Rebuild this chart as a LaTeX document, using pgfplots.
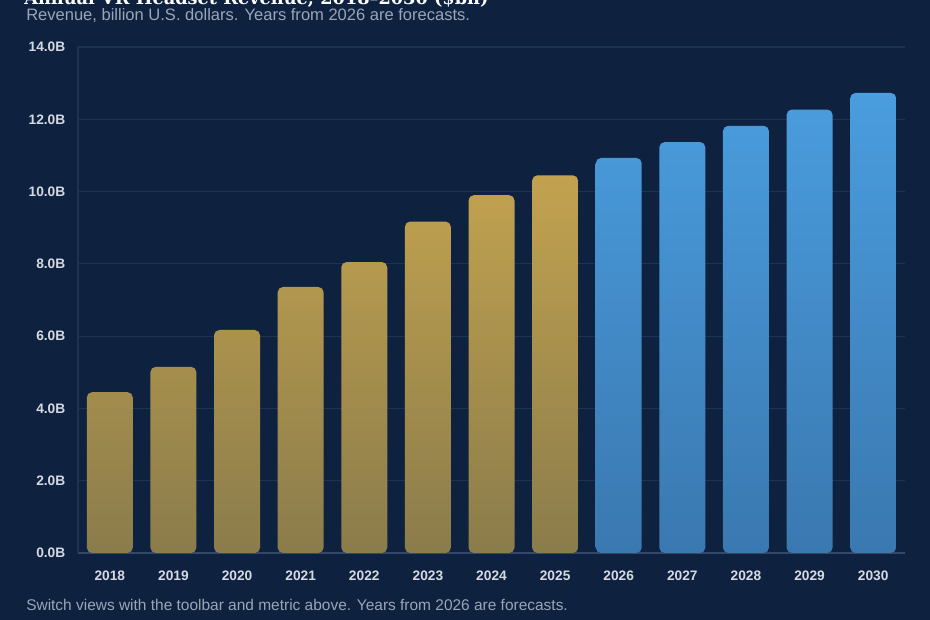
\documentclass[border=0pt]{standalone}
\usepackage{pgfplots}
\pgfplotsset{compat=1.18}
\usepackage{fontspec}
\setmainfont{Liberation Sans}
\newfontfamily\titlefont{DejaVu Serif}
\definecolor{bg}{HTML}{0E2240}
\definecolor{subgrey}{HTML}{9AA5B6}
\definecolor{ticktext}{HTML}{D5DAE2}
\definecolor{gridc}{HTML}{1C3352}
\definecolor{axisc}{HTML}{34496A}
\definecolor{goldtop}{HTML}{C2A24F}
\definecolor{goldbot}{HTML}{8A7C4B}
\definecolor{bluetop}{HTML}{4A9DDE}
\definecolor{bluebot}{HTML}{3A78B0}
\begin{document}
\begin{tikzpicture}[x=0.75pt,y=0.75pt]
\useasboundingbox (0,0) rectangle (930,620);
\clip (0,0) rectangle (930,620);
\fill[bg] (0,0) rectangle (930,620);
\node[anchor=base west, font=\titlefont\bfseries\fontsize{13.3}{15}\selectfont, text=white, inner sep=0] at (24,615) {Annual VR Headset Revenue, 2018–2030 (\$bn)};
\node[anchor=base west, font=\fontsize{12.4}{14}\selectfont, text=subgrey, inner sep=0] at (26,599) {Revenue, billion U.S. dollars. Years from 2026 are forecasts.};
\node[anchor=base west, font=\fontsize{11.6}{13}\selectfont, text=subgrey, inner sep=0] at (26,9) {Switch views with the toolbar and metric above. Years from 2026 are forecasts.};
\begin{axis}[
  at={(58.5pt,50.25pt)}, anchor=south west,
  scale only axis, width=620.25pt, height=379.5pt,
  xmin=-0.5, xmax=12.5, ymin=0, ymax=14,
  axis x line*=bottom, axis y line*=left,
  x axis line style={draw=axisc, line width=1pt, -},
  y axis line style={draw=gridc, line width=0.8pt, -},
  ytick={0,2,4,6,8,10,12,14},
  yticklabels={0.0B,2.0B,4.0B,6.0B,8.0B,10.0B,12.0B,14.0B},
  xtick={0,...,12},
  xticklabels={2018,2019,2020,2021,2022,2023,2024,2025,2026,2027,2028,2029,2030},
  major tick length=0pt,
  ymajorgrids, grid style={draw=gridc, line width=0.8pt},
  tick label style={font=\bfseries\fontsize{10.3}{12}\selectfont, text=ticktext},
  yticklabel style={xshift=-6pt},
  xticklabel style={yshift=-10pt},
]
\addplot[ybar, bar width=0.723, bar shift=0pt, draw=none, top color=goldtop, bottom color=goldbot, rounded corners=4pt]
  coordinates {(0,4.45) (1,5.15) (2,6.17) (3,7.36) (4,8.05) (5,9.17) (6,9.9) (7,10.45)};
\addplot[ybar, bar width=0.723, bar shift=0pt, draw=none, top color=bluetop, bottom color=bluebot, rounded corners=4pt]
  coordinates {(8,10.93) (9,11.37) (10,11.82) (11,12.27) (12,12.73)};
\end{axis}
\end{tikzpicture}
\end{document}
